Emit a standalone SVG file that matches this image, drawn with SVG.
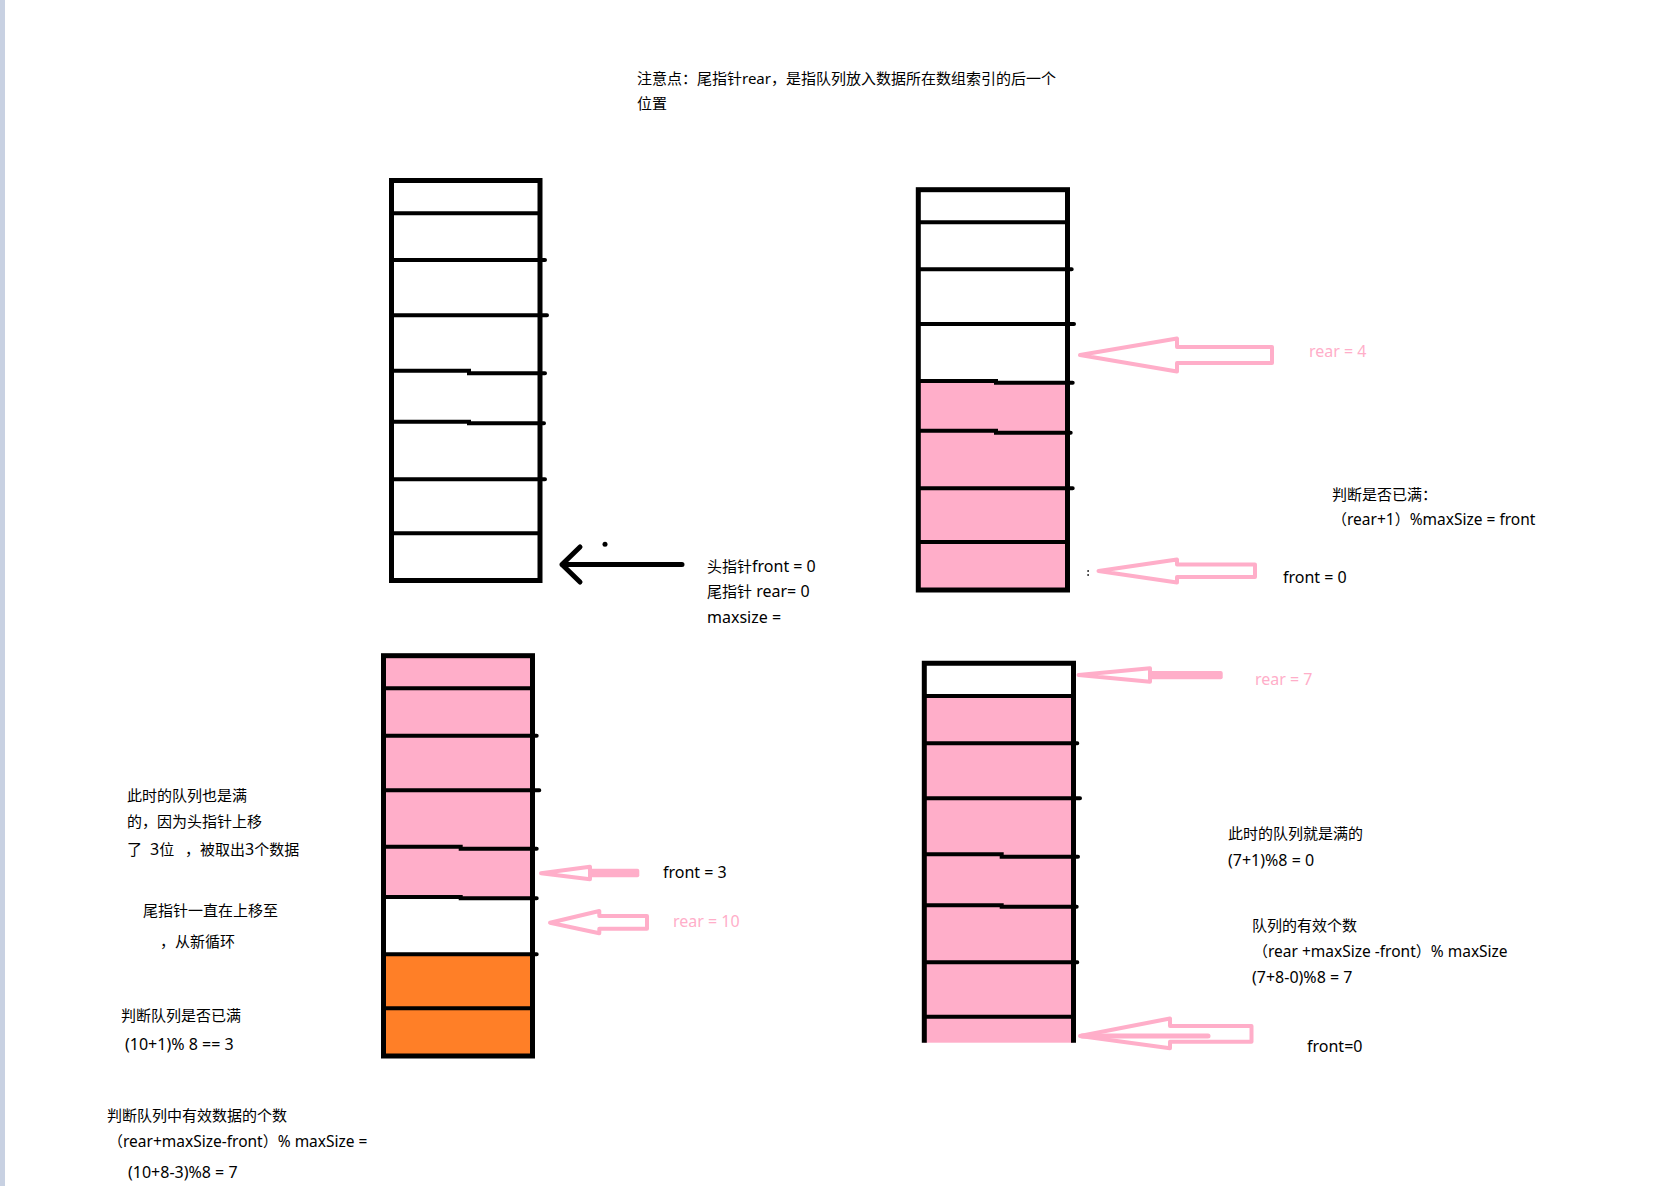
<svg xmlns="http://www.w3.org/2000/svg" width="1672" height="1186" viewBox="0 0 1672 1186">
<style>
text{font-family:"Noto Sans","Noto Sans CJK SC",sans-serif;font-size:15px;fill:#000}
text.pk{fill:#ffaec9}
.l{font-size:16px}
.m{font-size:15.5px}
.box{fill:none;stroke:#000;stroke-width:5}
.ln{fill:none;stroke:#000;stroke-width:4;stroke-linecap:round}
.pa{fill:#fff;stroke:#ffaec9;stroke-width:4;stroke-linejoin:round}
.pf{fill:#ffaec9}
</style>
<rect x="0" y="0" width="1672" height="1186" fill="#fff"/>
<rect x="0" y="0" width="5" height="1186" fill="#c8d1e2"/>

<g id="note">
<text x="637" y="84">注意点：尾指针rear，是指队列放入数据所在数组索引的后一个</text>
<text x="637" y="109">位置</text>
</g>

<g id="queue1">
<rect x="391.5" y="180.5" width="148.5" height="400" class="box"/>
<path class="ln" d="M393 213.3H538 M393 260H545 M393 315.3H547 M393 370.7H469V373.3H545 M393 421.7H469V423.3H544 M393 479.3H545 M393 533.3H538"/>
</g>

<g id="queue2">
<rect x="918.3" y="382" width="149" height="208" fill="#ffaec9"/>
<rect x="918.3" y="189.7" width="149.2" height="400.3" class="box"/>
<path class="ln" d="M920 222.3H1066 M920 269.3H1071.7 M920 324H1074 M920 381H996V382.7H1072.7 M920 430.7H996V432.7H1070.7 M920 488.3H1072.7 M920 542H1066"/>
</g>

<g id="queue3">
<rect x="383.5" y="655.7" width="149" height="242" fill="#ffaec9"/>
<rect x="383.5" y="954.3" width="149" height="101.7" fill="#ff7f27"/>
<rect x="383.5" y="655.7" width="149" height="400.3" class="box"/>
<path class="ln" d="M385 688.3H531 M385 735.7H536.7 M385 790.3H539.3 M385 846.7H460.7V848.7H536.7 M385 897H460.7V898.3H536.7 M385 954.3H536.7 M385 1008.3H531"/>
</g>

<g id="queue4">
<rect x="924.3" y="663.3" width="149.2" height="379.4" fill="#ffaec9"/>
<rect x="924.3" y="663.3" width="149.2" height="32.7" fill="#fff"/>
<path d="M924.3 1042.7V663.3H1073.5V1042.7" fill="none" stroke="#000" stroke-width="5"/>
<path class="ln" d="M926 696H1072" stroke-width="5"/>
<path class="ln" d="M926 743.3H1077.3 M926 798.3H1080 M926 854.3H1001.7V856.7H1078 M926 905.3H1001.7V906.7H1076.7 M926 962.3H1077.3 M926 1016.7H1072"/>
</g>

<g id="connectors">
<g id="arrow-front0-q1">
<path d="M562 564.5H682 M580 547L562 564.5L580 582" fill="none" stroke="#000" stroke-width="5" stroke-linecap="round" stroke-linejoin="round"/>
<circle cx="605" cy="544.3" r="2.5" fill="#000"/>
</g>
<g id="arrow-rear4">
<polygon class="pa" points="1080,355 1177,338.5 1177,347 1272,347 1272,363 1177,363 1177,371.5"/>
</g>
<g id="arrow-front0-q2">
<polygon class="pa" points="1098.5,571 1177,559.5 1177,564.5 1255,564.5 1255,577 1177,577 1177,582.5"/>
<rect x="1087.5" y="570" width="1.2" height="2" fill="#000"/>
<rect x="1087.5" y="574" width="1.2" height="2" fill="#000"/>
</g>
<g id="arrow-front3">
<polygon class="pa" points="541,873.3 590,866.7 590,879.3"/>
<rect class="pf" x="588" y="868.7" width="51.3" height="8.6" rx="2"/>
</g>
<g id="arrow-rear10">
<polygon class="pa" points="550,922.7 599.3,911 599.3,916 647,916 647,928.7 599.3,928.7 599.3,933.3"/>
</g>
<g id="arrow-rear7">
<polygon class="pa" points="1078.5,675 1150,668.3 1150,681.7"/>
<rect class="pf" x="1148" y="671" width="74.7" height="8.3" rx="2"/>
</g>
<g id="arrow-front0-q4">
<polygon class="pa" points="1080,1036 1170,1018.5 1170,1026 1251.5,1026 1251.5,1041.7 1170,1041.7 1170,1048.3"/>
<path d="M1082 1036H1208" stroke="#ffaec9" stroke-width="5" stroke-linecap="round"/>
</g>
</g>

<g id="label-q1">
<text x="707" y="572">头指针<tspan class="l">front = 0</tspan></text>
<text x="707" y="597">尾指针<tspan class="l"> rear= 0</tspan></text>
<text x="707" y="623" class="l">maxsize =</text>
</g>

<g id="label-rear4"><text class="pk l" x="1309" y="357">rear = 4</text></g>
<g id="label-full-check">
<text x="1332" y="500">判断是否已满：</text>
<text x="1332" y="525">（<tspan class="m">rear+1</tspan>）<tspan class="m">%maxSize = front</tspan></text>
</g>
<g id="label-front0-q2"><text class="l" x="1283" y="583">front = 0</text></g>

<g id="label-front3"><text class="l" x="663" y="878">front =  3</text></g>
<g id="label-rear10"><text class="pk l" x="673" y="927">rear = 10</text></g>

<g id="label-q3-notes">
<text x="127" y="801">此时的队列也是满</text>
<text x="127" y="827">的，因为头指针上移</text>
<text x="127" y="855">了</text>
<text x="150" y="855"><tspan class="l">3</tspan>位</text>
<text x="185" y="855">，被取出<tspan class="l">3</tspan>个数据</text>
<text x="143" y="916">尾指针一直在上移至</text>
<text x="160" y="947">，从新循环</text>
<text x="121" y="1021">判断队列是否已满</text>
<text class="l" x="125" y="1050">(10+1)% 8 == 3</text>
<text x="107" y="1121">判断队列中有效数据的个数</text>
<text x="108" y="1147">（<tspan class="m">rear+maxSize-front</tspan>）<tspan class="m">% maxSize =</tspan></text>
<text class="l" x="128" y="1178">(10+8-3)%8 = 7</text>
</g>

<g id="label-rear7"><text class="pk l" x="1255" y="685">rear = 7</text></g>
<g id="label-q4-notes">
<text x="1228" y="839">此时的队列就是满的</text>
<text class="l" x="1228" y="866">(7+1)%8 = 0</text>
<text x="1252" y="931">队列的有效个数</text>
<text x="1253" y="957">（<tspan class="m">rear +maxSize -front</tspan>）<tspan class="m">% maxSize</tspan></text>
<text class="l" x="1252" y="983">(7+8-0)%8 = 7</text>
<text class="l" x="1307" y="1052">front=0</text>
</g>
</svg>
